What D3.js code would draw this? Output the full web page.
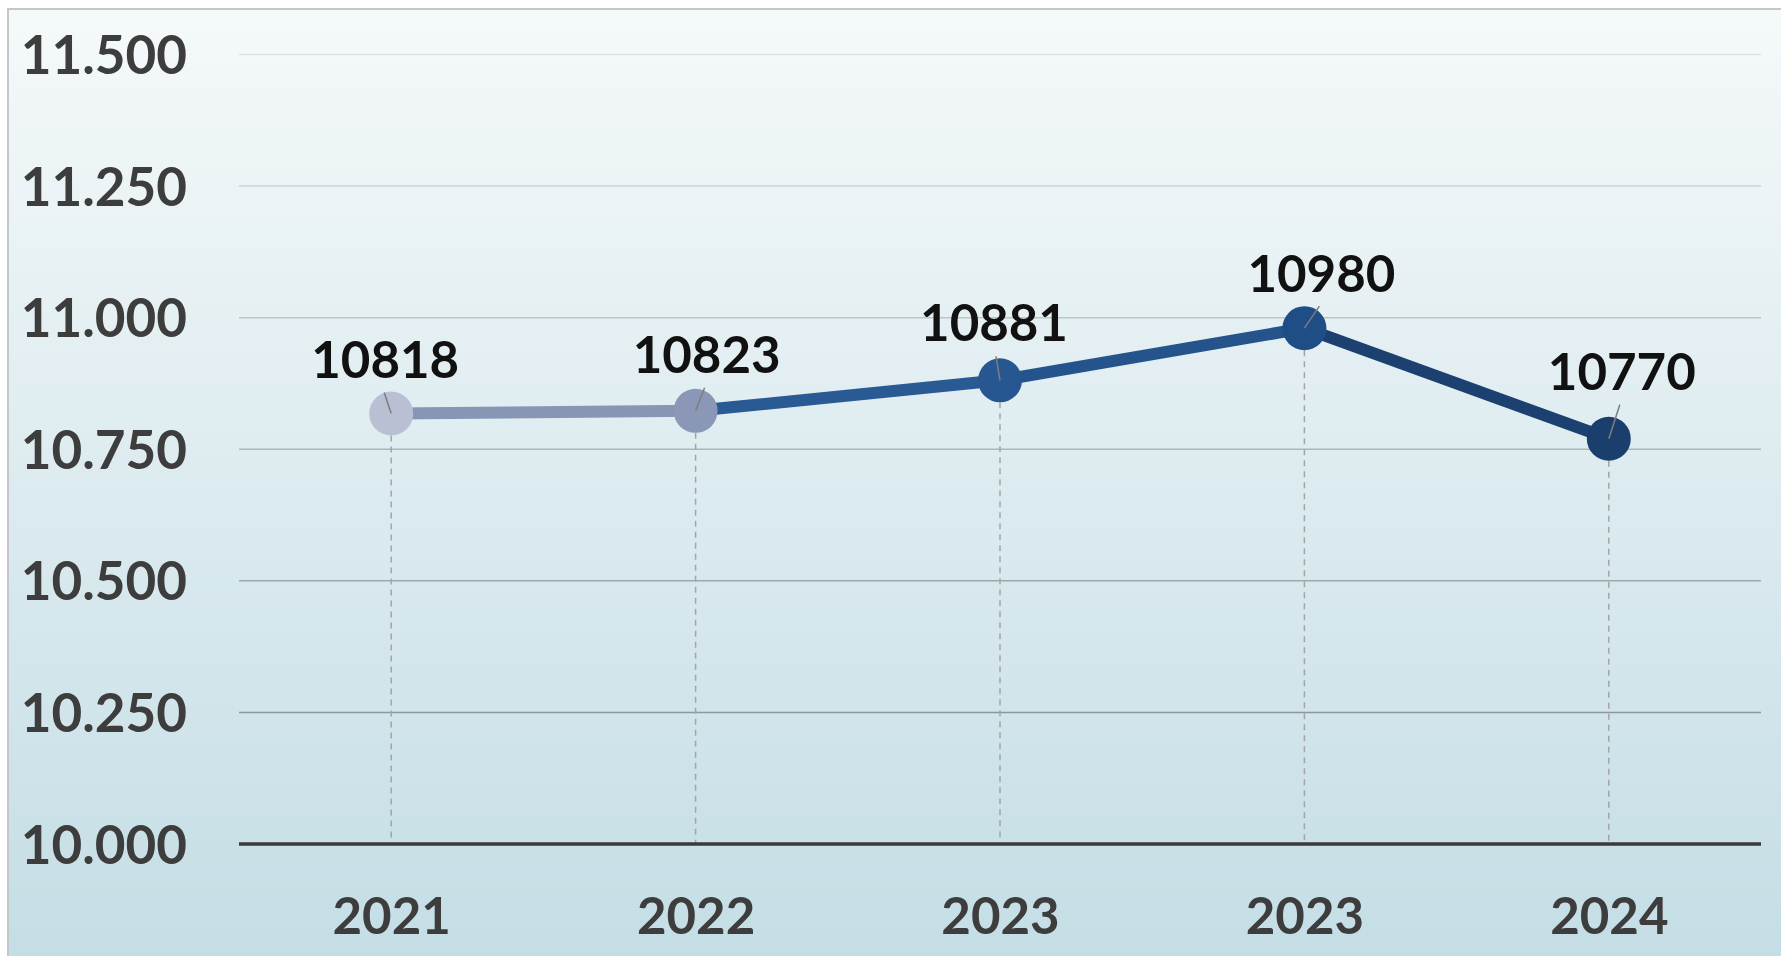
<!DOCTYPE html>
<html><head><meta charset="utf-8">
<script src="https://cdn.jsdelivr.net/npm/d3@7"></script>
<style>html,body{margin:0;padding:0;background:#fff;overflow:hidden}</style>
</head><body>
<svg id="chart" width="1781" height="956"></svg>
<script>
const categories = ["2021", "2022", "2023", "2023", "2024"];
const values = [10818, 10823, 10881, 10980, 10770];
const yTicks = [10000, 10250, 10500, 10750, 11000, 11250, 11500];
const pointColors = ["#b9c0d3", "#8a97b6", "#265791", "#1f4e86", "#1b3f6c"];
const segmentColors = ["#8896b6", "#2a5a93", "#24548b", "#1c4170"];
const leaderDx = [-7, 9, -4, 15, 11];
const leaderDy = [-21, -23, -24, -22, -34];
const labelDx = [-6, 11, -6, 17, 13];
const labelDy = [-35, -38, -39, -36, -49];

const W = 1781, H = 956;
const svg = d3.select("#chart");
const defs = svg.append("defs");
const grad = defs.append("linearGradient").attr("id","bg").attr("x1",0).attr("y1",0).attr("x2",0).attr("y2",1);
grad.append("stop").attr("offset","0%").attr("stop-color","#f5f9fa");
grad.append("stop").attr("offset","100%").attr("stop-color","#c4dde5");

svg.append("rect").attr("x",8).attr("y",9).attr("width",W).attr("height",H)
  .attr("fill","url(#bg)").attr("stroke","#c3c7ca").attr("stroke-width",2);

const mLeft = 239, mRight = 1761, mTop = 54.5, mBottom = 844;
const x = d3.scalePoint().domain(d3.range(categories.length)).range([mLeft, mRight]).padding(0.5);
const y = d3.scaleLinear().domain([10000, 11500]).range([mBottom, mTop]);
const loc = d3.formatLocale({decimal: ",", thousands: ".", grouping: [3], currency: ["", "€"]});
const fmt = loc.format(",");

const gridColor = d3.scaleLinear().domain([11500, 10250]).range(["#dde3e6", "#8d989d"]);

// gridlines
svg.append("g").selectAll("line").data(yTicks.filter(t => t !== 10000)).join("line")
  .attr("x1", mLeft).attr("x2", mRight)
  .attr("y1", d => y(d)).attr("y2", d => y(d))
  .attr("stroke", d => gridColor(d)).attr("stroke-width", 1.5);

// y axis labels
const yAxis = d3.axisLeft(y).tickValues(yTicks).tickFormat(fmt).tickSize(0).tickPadding(0);
const yg = svg.append("g").attr("transform", `translate(187,0)`).call(yAxis);
yg.select(".domain").remove();
yg.selectAll("text").attr("font-family","Lato").attr("font-weight","bold")
  .attr("font-size", 53).attr("fill","#3d3d3d").attr("dy","0.36em");

// dashed verticals
svg.append("g").selectAll("line").data(values).join("line")
  .attr("x1", (d,i) => x(i)).attr("x2", (d,i) => x(i))
  .attr("y1", d => y(d)).attr("y2", mBottom)
  .attr("stroke", "#a2a5a8").attr("stroke-width", 1.5).attr("stroke-dasharray", "6,5");

// x axis baseline
const xAxis = d3.axisBottom(x).tickFormat(i => categories[i]).tickSize(0).tickPadding(0);
const xg = svg.append("g").attr("transform", `translate(0,${mBottom})`).call(xAxis);
xg.select(".domain").attr("d", `M${mLeft},0H${mRight}`).attr("stroke","#3a3a3a").attr("stroke-width",3.5);
xg.selectAll("text").attr("font-family","Lato").attr("font-weight","bold")
  .attr("font-size", 51).attr("fill","#3d3d3d").attr("y", 90).attr("dy", 0);

// line segments
const segs = d3.pairs(values.map((v,i) => [x(i), y(v)]));
svg.append("g").selectAll("line").data(segs).join("line")
  .attr("x1", d => d[0][0]).attr("y1", d => d[0][1])
  .attr("x2", d => d[1][0]).attr("y2", d => d[1][1])
  .attr("stroke", (d,i) => segmentColors[i]).attr("stroke-width", 12);

// points
svg.append("g").selectAll("circle").data(values).join("circle")
  .attr("cx", (d,i) => x(i)).attr("cy", d => y(d)).attr("r", 22)
  .attr("fill", (d,i) => pointColors[i]);

// leader lines
svg.append("g").selectAll("line").data(values).join("line")
  .attr("x1", (d,i) => x(i)).attr("y1", d => y(d))
  .attr("x2", (d,i) => x(i) + leaderDx[i]).attr("y2", (d,i) => y(d) + leaderDy[i])
  .attr("stroke", "#7d7d7d").attr("stroke-width", 1.5);

// data labels
svg.append("g").selectAll("text").data(values).join("text")
  .attr("x", (d,i) => x(i) + labelDx[i]).attr("y", (d,i) => y(d) + labelDy[i])
  .attr("text-anchor","middle")
  .attr("font-family","Lato").attr("font-weight","bold").attr("font-size", 51)
  .attr("fill","#111").text(d => d);
</script>
</body></html>
